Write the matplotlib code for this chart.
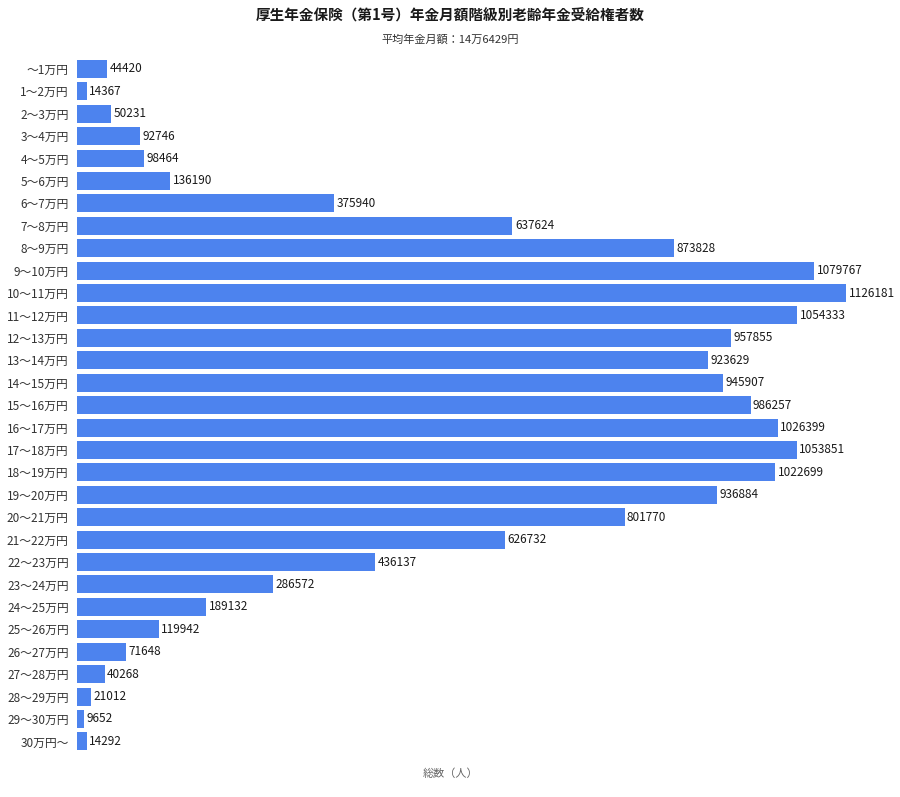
import matplotlib
matplotlib.use("Agg")
import matplotlib.pyplot as plt

plt.rcParams['font.family'] = ['Noto Sans CJK JP', 'DejaVu Sans']

categories = ["〜1万円", "1〜2万円", "2〜3万円", "3〜4万円", "4〜5万円", "5〜6万円",
              "6〜7万円", "7〜8万円", "8〜9万円", "9〜10万円", "10〜11万円", "11〜12万円",
              "12〜13万円", "13〜14万円", "14〜15万円", "15〜16万円", "16〜17万円",
              "17〜18万円", "18〜19万円", "19〜20万円", "20〜21万円", "21〜22万円",
              "22〜23万円", "23〜24万円", "24〜25万円", "25〜26万円", "26〜27万円",
              "27〜28万円", "28〜29万円", "29〜30万円", "30万円〜"]
values = [44420, 14367, 50231, 92746, 98464, 136190, 375940, 637624, 873828,
          1079767, 1126181, 1054333, 957855, 923629, 945907, 986257, 1026399,
          1053851, 1022699, 936884, 801770, 626732, 436137, 286572, 189132,
          119942, 71648, 40268, 21012, 9652, 14292]

title = "厚生年金保険（第1号）年金月額階級別老齢年金受給権者数"
subtitle = "平均年金月額：14万6429円"
xlabel = "総数（人）"

fig = plt.figure(figsize=(9, 7.97), dpi=100)
ax = fig.add_axes([0.0856, 0.0557, 0.903, 0.872])

n = len(categories)
ypos = list(range(n))
ax.barh(ypos, values, height=0.8, color="#4d83ee")
for y, v in zip(ypos, values):
    ax.text(v + 3500, y, str(v), va="center", ha="left", fontsize=8.5, color="#1a1a1a")

ax.set_ylim(n - 0.5, -0.5)
ax.set_xlim(0, 1190000)
ax.set_yticks(ypos)
ax.set_yticklabels(categories, fontsize=8.5, color="#333333")
ax.tick_params(axis="y", length=0, pad=6)
ax.set_xticks([])
for s in ax.spines.values():
    s.set_visible(False)

fig.text(0.5, 0.98, title, ha="center", va="center", fontsize=10.5, fontweight="bold", color="#1a1a1a")
fig.text(0.5, 0.951, subtitle, ha="center", va="center", fontsize=8, color="#333333")
fig.text(0.5, 0.029, xlabel, ha="center", va="center", fontsize=8, color="#666666")

fig.savefig("out.png", dpi=100)
